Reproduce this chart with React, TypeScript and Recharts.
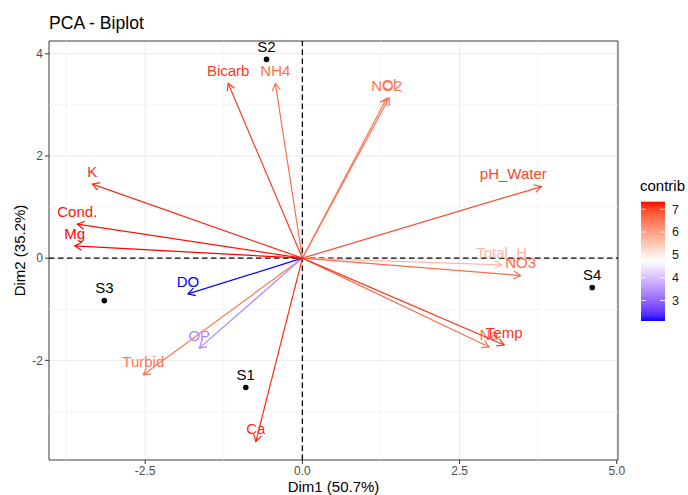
import React from 'react';
import { ScatterChart, Scatter, XAxis, YAxis, CartesianGrid, ReferenceLine, ReferenceArea } from 'recharts';

// variables (arrows)
const varNames = ['Bicarb', 'NH4', 'NO2', 'Cl', 'pH_Water', 'Total_H', 'NO3', 'Na', 'Temp', 'Ca', 'Turbid', 'OP', 'DO', 'Mg', 'Cond.', 'K'];
const varDim1 = [-1.18, -0.43, 1.34, 1.38, 3.80, 3.17, 3.47, 2.97, 3.21, -0.74, -2.53, -1.64, -1.82, -3.62, -3.58, -3.34];
const varDim2 = [3.42, 3.42, 3.13, 3.14, 1.40, -0.13, -0.34, -1.74, -1.70, -3.59, -2.28, -1.76, -0.70, 0.24, 0.665, 1.45];
const varContrib = [7.1, 6.6, 6.55, 6.55, 7.0, 5.7, 6.65, 6.6, 7.15, 7.2, 6.5, 3.35, 2.1, 7.33, 7.3, 7.2];

// individuals (points)
const indNames = ['S1', 'S2', 'S3', 'S4'];
const indDim1 = [-0.90, -0.57, -3.15, 4.61];
const indDim2 = [-2.53, 3.89, -0.83, -0.575];

const xTicks = [-2.5, 0, 2.5, 5];
const yTicks = [-2, 0, 2, 4];
const xMinor = [-3.75, -1.25, 1.25, 3.75];
const yMinor = [-3, -1, 1, 3];
const legendTicks = [3, 4, 5, 6, 7];

const X_DOMAIN = [-4.03, 5.02];
const Y_DOMAIN = [-3.95, 4.25];
const FONT = '"Liberation Sans", Arial, Helvetica, sans-serif';

// the reference has this one label sitting left of its arrow head
const labelDx: Record<string, number> = { pH_Water: -28 };

// colour scale blue - white - red, interpolated in Lab like ggplot
const toLin = (c: number) => { c /= 255; return c <= 0.04045 ? c / 12.92 : Math.pow((c + 0.055) / 1.055, 2.4); };
const fromLin = (c: number) => {
  const v = c <= 0.0031308 ? 12.92 * c : 1.055 * Math.pow(c, 1 / 2.4) - 0.055;
  return Math.round(Math.max(0, Math.min(1, v)) * 255);
};
const rgb2lab = ([r, g, b]: number[]) => {
  const R = toLin(r), G = toLin(g), B = toLin(b);
  const x = (R * 0.4124 + G * 0.3576 + B * 0.1805) / 0.95047;
  const y = R * 0.2126 + G * 0.7152 + B * 0.0722;
  const z = (R * 0.0193 + G * 0.1192 + B * 0.9505) / 1.08883;
  const f = (t: number) => (t > 0.008856 ? Math.cbrt(t) : 7.787 * t + 16 / 116);
  const fx = f(x), fy = f(y), fz = f(z);
  return [116 * fy - 16, 500 * (fx - fy), 200 * (fy - fz)];
};
const lab2rgb = ([L, a, b]: number[]) => {
  const fy = (L + 16) / 116, fx = fy + a / 500, fz = fy - b / 200;
  const finv = (t: number) => (t * t * t > 0.008856 ? t * t * t : (t - 16 / 116) / 7.787);
  const x = finv(fx) * 0.95047, y = finv(fy), z = finv(fz) * 1.08883;
  const R = 3.2406 * x - 1.5372 * y - 0.4986 * z;
  const G = -0.9689 * x + 1.8758 * y + 0.0415 * z;
  const B = 0.0557 * x - 0.2040 * y + 1.0570 * z;
  return `rgb(${fromLin(R)},${fromLin(G)},${fromLin(B)})`;
};
const BLUE = rgb2lab([0, 0, 255]);
const WHITE = rgb2lab([255, 255, 255]);
const RED = rgb2lab([255, 0, 0]);
const cMin = Math.min(...varContrib);
const cMax = Math.max(...varContrib);
const colorFor = (v: number) => {
  const t = (v - cMin) / (cMax - cMin);
  const [a, b, s] = t < 0.5 ? [BLUE, WHITE, t * 2] : [WHITE, RED, (t - 0.5) * 2];
  return lab2rgb(a.map((av, i) => av + (b[i] - av) * s));
};

const Arrow = (props: any) => {
  const { x1, y1, x2, y2, color, name } = props;
  const ang = Math.atan2(y2 - y1, x2 - x1);
  const len = 8;
  const spread = Math.PI / 6;
  const ax = x2 - len * Math.cos(ang - spread);
  const ay = y2 - len * Math.sin(ang - spread);
  const bx = x2 - len * Math.cos(ang + spread);
  const by = y2 - len * Math.sin(ang + spread);
  return (
    <g>
      <line x1={x1} y1={y1} x2={x2} y2={y2} stroke={color} strokeWidth={1.2} />
      <polyline points={`${ax},${ay} ${x2},${y2} ${bx},${by}`} fill="none" stroke={color} strokeWidth={1.2} />
      <text x={x2 + (labelDx[name] || 0)} y={y2 - 12.5} dy="0.35em" textAnchor="middle" fill={color} fontSize={15} fontFamily={FONT}>{name}</text>
    </g>
  );
};

const IndPoint = (props: any) => {
  const { cx, cy, payload } = props;
  return (
    <g>
      <circle cx={cx} cy={cy} r={2.8} fill="#000" />
      <text x={cx} y={cy - 13} dy="0.35em" textAnchor="middle" fill="#000" fontSize={15} fontFamily={FONT}>{payload.name}</text>
    </g>
  );
};

const indData = indNames.map((name, i) => ({ name, x: indDim1[i], y: indDim2[i] }));

export default function App() {
  const barTop = 201.7;
  const barBottom = 321;
  const barY = (v: number) => barTop + ((cMax - v) / (cMax - cMin)) * (barBottom - barTop);
  const gradStops = Array.from({ length: 21 }, (_, i) => i / 20);

  return (
    <div style={{ position: 'absolute', left: 0, top: 0, width: 688, height: 495, background: '#fff', fontFamily: FONT }}>
      <ScatterChart width={688} height={495} margin={{ top: 41, right: 70, bottom: 0, left: 0 }}>
        <CartesianGrid stroke="#EBEBEB" strokeWidth={1} />
        {xMinor.map((v) => <ReferenceLine key={'xm' + v} x={v} stroke="#F3F3F3" strokeWidth={0.8} />)}
        {yMinor.map((v) => <ReferenceLine key={'ym' + v} y={v} stroke="#F3F3F3" strokeWidth={0.8} />)}
        <XAxis
          dataKey="x"
          type="number"
          domain={X_DOMAIN}
          ticks={xTicks}
          tickFormatter={(v: number) => v.toFixed(1)}
          height={35}
          axisLine={false}
          tickSize={4}
          tickLine={{ stroke: '#333' }}
          tick={{ fill: '#4D4D4D', fontSize: 12, fontFamily: FONT }}
        />
        <YAxis
          dataKey="y"
          type="number"
          domain={Y_DOMAIN}
          ticks={yTicks}
          width={49}
          axisLine={false}
          tickSize={4}
          tickLine={{ stroke: '#333' }}
          tick={{ fill: '#4D4D4D', fontSize: 12, fontFamily: FONT }}
        />
        <ReferenceLine x={0} stroke="#000" strokeWidth={1.3} strokeDasharray="5.5 3.5" />
        <ReferenceLine y={0} stroke="#000" strokeWidth={1.3} strokeDasharray="5.5 3.5" />
        {varNames.map((name, i) => (
          <ReferenceLine
            key={name}
            segment={[{ x: 0, y: 0 }, { x: varDim1[i], y: varDim2[i] }]}
            shape={(p: any) => <Arrow {...p} name={name} color={colorFor(varContrib[i])} />}
          />
        ))}
        <Scatter data={indData} shape={IndPoint} isAnimationActive={false} />
        <ReferenceArea x1={X_DOMAIN[0]} x2={X_DOMAIN[1]} y1={Y_DOMAIN[0]} y2={Y_DOMAIN[1]} fill="none" stroke="#444" strokeWidth={1} fillOpacity={0} />
      </ScatterChart>

      <svg width={688} height={495} style={{ position: 'absolute', left: 0, top: 0, pointerEvents: 'none' }}>
        <defs>
          <linearGradient id="contribGrad" x1="0" y1="1" x2="0" y2="0">
            {gradStops.map((s) => (
              <stop key={s} offset={s} stopColor={colorFor(cMin + s * (cMax - cMin))} />
            ))}
          </linearGradient>
        </defs>
        <text x={49} y={29.3} fontSize={17.6} fill="#000" fontFamily={FONT}>PCA - Biplot</text>
        <text x={333.5} y={492} fontSize={15} textAnchor="middle" fill="#000" fontFamily={FONT}>Dim1 (50.7%)</text>
        <text transform="translate(25,250.5) rotate(-90)" fontSize={15} textAnchor="middle" fill="#000" fontFamily={FONT}>Dim2 (35.2%)</text>

        <text x={640} y={191} fontSize={15} fill="#000" fontFamily={FONT}>contrib</text>
        <rect x={641} y={barTop} width={24} height={barBottom - barTop} fill="url(#contribGrad)" />
        {legendTicks.map((t) => (
          <g key={t}>
            <line x1={641} x2={646} y1={barY(t)} y2={barY(t)} stroke="#fff" strokeOpacity={0.8} />
            <line x1={660} x2={665} y1={barY(t)} y2={barY(t)} stroke="#fff" strokeOpacity={0.8} />
            <text x={672} y={barY(t)} dy="0.35em" fontSize={12.5} fill="#1A1A1A" fontFamily={FONT}>{t}</text>
          </g>
        ))}
      </svg>
    </div>
  );
}
